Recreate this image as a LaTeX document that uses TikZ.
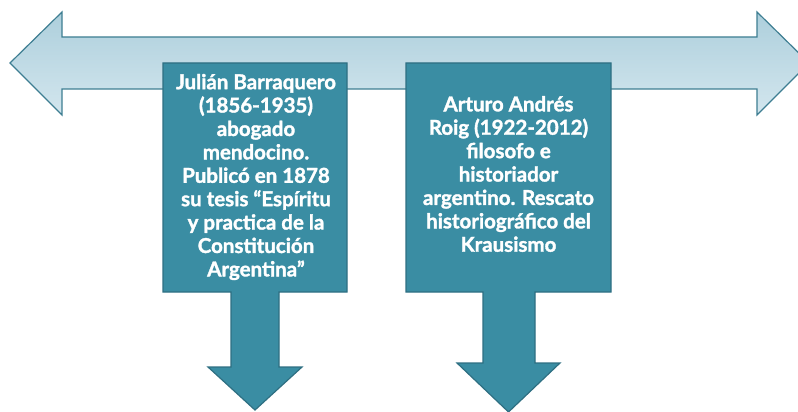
\documentclass[tikz,border=0pt]{standalone}
\usepackage{fontspec}
\setmainfont{Lato}
\newfontfamily\boxfont{Lato}[BoldFeatures={FakeBold=1.6}]
\definecolor{boxfill}{HTML}{3A8DA3}
\definecolor{boxline}{HTML}{2E6F82}
\definecolor{bartop}{HTML}{ADCFDC}
\definecolor{barbot}{HTML}{D3E6EE}
\definecolor{barline}{HTML}{3E7E92}
\tikzset{
  bar/.style={draw=barline, line width=1.2pt, top color=bartop, bottom color=barbot, line join=miter},
  callout/.style={draw=boxline, line width=1.2pt, fill=boxfill, line join=miter},
  txt/.style={text=white, align=center, font=\boxfont\fontsize{20.5}{23.4}\selectfont\bfseries, inner sep=0pt}
}
\begin{document}
\begin{tikzpicture}[x=1pt,y=-1pt]
\clip (0,0) rectangle (798,412);
% double arrow
\path[bar] (10,63) -- (62,12) -- (62,37) -- (757,37) -- (757,12) -- (809,63) -- (757,115) -- (757,89) -- (62,89) -- (62,115) -- cycle;
% callout 1
\path[callout] (163,63) -- (347,63) -- (347,292) -- (279,292) -- (279,367) -- (302,367) -- (255,410) -- (208,367) -- (231,367) -- (231,292) -- (163,292) -- cycle;
% callout 2
\path[callout] (406,63) -- (611,63) -- (611,292) -- (535,292) -- (535,363) -- (560,363) -- (508.5,412) -- (457,363) -- (483,363) -- (483,292) -- (406,292) -- cycle;
\node[txt] (t1) at (256,177) {Julián Barraquero\\(1856-1935)\\abogado\\mendocino.\\Publicó en 1878\\su tesis “Espíritu\\y practica de la\\Constitución\\Argentina”};
\node[txt] (t2) at (508.5,174) {Arturo Andrés\\Roig (1922-2012)\\filosofo e\\historiador\\argentino. Rescato\\historiográfico del\\Krausismo};
\end{tikzpicture}
\end{document}
